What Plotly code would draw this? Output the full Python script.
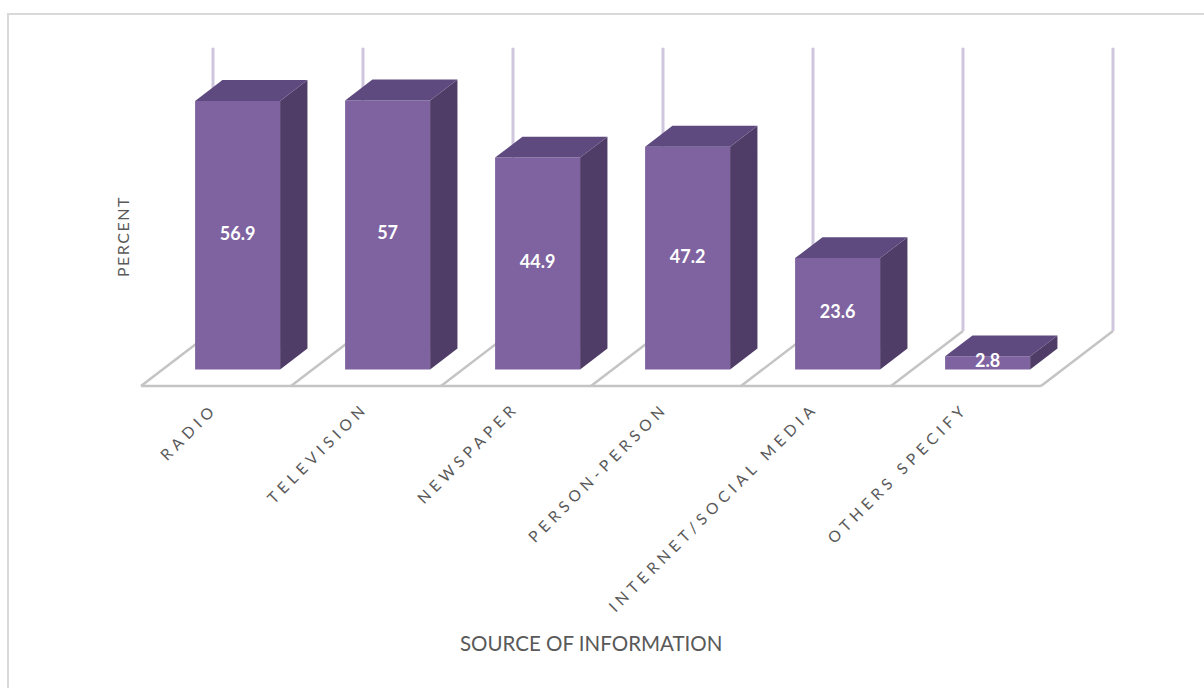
import plotly.graph_objects as go

# ---- data -------------------------------------------------------------
categories = ["RADIO", "TELEVISION", "NEWSPAPER", "PERSON-PERSON",
              "INTERNET/SOCIAL MEDIA", "OTHERS SPECIFY"]
percent = [56.9, 57, 44.9, 47.2, 23.6, 2.8]
y_axis_max = 60

x_title = "SOURCE OF INFORMATION"
y_title = "PERCENT"

# ---- styling / geometry --------------------------------------------------
W, H = 1204, 688
FRONT = "#7E63A0"
TOP = "#5E4A7F"
SIDE = "#4F3D68"
WALL_LINE = "#D0C7DE"
FLOOR_LINE = "#C4C4C4"
TEXT_GREY = "#595959"
FONT = "Lato"

# pixel scale of the axes (front plane)
ORIGIN_X_PX = 216      # centre of the first category on the front floor edge
ORIGIN_Y_PX = 386      # front floor edge (0 %)
CAT_PX = 150           # pixels per category
PCT_PX = 4.72          # pixels per percent

# oblique depth projection: a full floor depth shifts right and up
DEPTH_DX = 72 / CAT_PX
DEPTH_DY = 55 / PCT_PX
BAR_D0, BAR_D1 = 0.30, 0.68    # bar occupies this slice of the depth
BAR_W = 85 / CAT_PX

x_range = [(0 - ORIGIN_X_PX) / CAT_PX, (W - ORIGIN_X_PX) / CAT_PX]
y_range = [(ORIGIN_Y_PX - H) / PCT_PX, ORIGIN_Y_PX / PCT_PX]

n = len(categories)
idx = list(range(n))

fig = go.Figure()

# ---- walls and floor (drawn beneath the bars) ---------------------------
shapes = []
bounds = [i - 0.5 for i in range(n + 1)]
# front edge of the floor
shapes.append(dict(type="line", xref="x", yref="y", layer="below",
                   x0=bounds[0], y0=0, x1=bounds[-1], y1=0,
                   line=dict(color=FLOOR_LINE, width=2.5)))
for b in bounds:
    # floor divider running from front to back
    shapes.append(dict(type="line", xref="x", yref="y", layer="below",
                       x0=b, y0=0, x1=b + DEPTH_DX, y1=DEPTH_DY,
                       line=dict(color=FLOOR_LINE, width=2.5)))
    # vertical divider on the back wall
    shapes.append(dict(type="line", xref="x", yref="y", layer="below",
                       x0=b + DEPTH_DX, y0=DEPTH_DY,
                       x1=b + DEPTH_DX, y1=DEPTH_DY + y_axis_max,
                       line=dict(color=WALL_LINE, width=3)))

# chart frame
shapes.append(dict(type="rect", xref="paper", yref="paper", layer="below",
                   x0=8 / W, y0=-0.05, x1=1.05, y1=1 - 14 / H,
                   line=dict(color="#D9D9D9", width=2)))

# ---- bars: front faces ----------------------------------------------------
front_x = [i + BAR_D0 * DEPTH_DX for i in idx]
base = BAR_D0 * DEPTH_DY
fig.add_trace(go.Bar(
    x=front_x, y=percent, base=[base] * n, width=BAR_W,
    marker=dict(color=FRONT, line=dict(width=0)),
    hoverinfo="skip", showlegend=False,
))

# ---- bars: top and side faces --------------------------------------------
ddx = (BAR_D1 - BAR_D0) * DEPTH_DX
ddy = (BAR_D1 - BAR_D0) * DEPTH_DY
for cx, v in zip(front_x, percent):
    xl, xr = cx - BAR_W / 2, cx + BAR_W / 2
    b, t = base, base + v
    fig.add_trace(go.Scatter(
        x=[xr, xr + ddx, xr + ddx, xr, xr], y=[b, b + ddy, t + ddy, t, b],
        fill="toself", fillcolor=SIDE, mode="lines", line=dict(width=0),
        hoverinfo="skip", showlegend=False))
    fig.add_trace(go.Scatter(
        x=[xl, xr, xr + ddx, xl + ddx, xl], y=[t, t, t + ddy, t + ddy, t],
        fill="toself", fillcolor=TOP, mode="lines", line=dict(width=0),
        hoverinfo="skip", showlegend=False))

# ---- value labels on the front faces ------------------------------------
fig.add_trace(go.Scatter(
    x=front_x, y=[base + v / 2 for v in percent], mode="text",
    text=[f"{v:g}" for v in percent],
    textfont=dict(family=FONT, size=18, color="white", weight="bold"),
    hoverinfo="skip", showlegend=False))

# ---- category labels --------------------------------------------------------
annotations = []
for i, name in enumerate(categories):
    annotations.append(dict(
        xref="x", yref="y", x=i + 8 / CAT_PX, y=-10 / PCT_PX,
        text=f'<span style="letter-spacing:4.8px">{name}</span>',
        textangle=-45, xanchor="right", yanchor="top", showarrow=False,
        font=dict(family=FONT, size=15.5, color=TEXT_GREY)))

annotations.append(dict(
    xref="paper", yref="paper", x=591 / W, y=1 - 643 / H,
    text=x_title, showarrow=False, xanchor="center", yanchor="middle",
    font=dict(family=FONT, size=20.5, color=TEXT_GREY)))
annotations.append(dict(
    xref="paper", yref="paper", x=122 / W, y=1 - 237 / H,
    text=f'<span style="letter-spacing:1.5px">{y_title}</span>',
    textangle=-90, showarrow=False, xanchor="center", yanchor="middle",
    font=dict(family=FONT, size=16, color=TEXT_GREY)))

fig.update_layout(
    width=W, height=H,
    margin=dict(l=0, r=0, t=0, b=0),
    paper_bgcolor="white", plot_bgcolor="white",
    xaxis=dict(range=x_range, visible=False, fixedrange=True),
    yaxis=dict(range=y_range, visible=False, fixedrange=True),
    shapes=shapes, annotations=annotations,
    showlegend=False,
)

fig.write_html("out.html", config={"displayModeBar": False})
